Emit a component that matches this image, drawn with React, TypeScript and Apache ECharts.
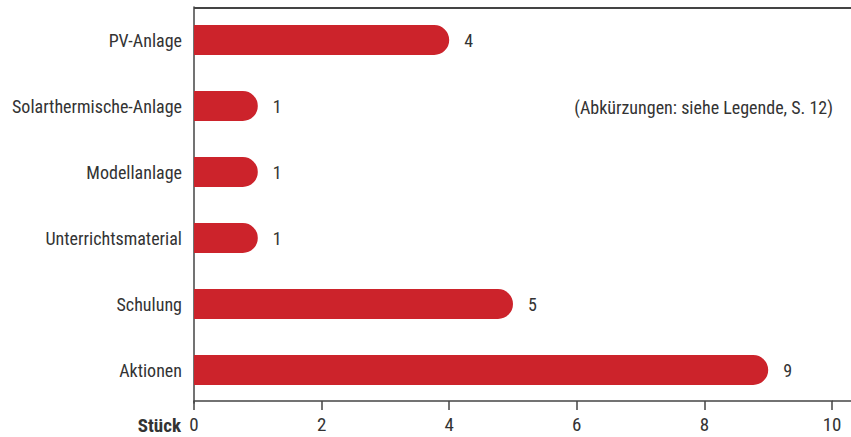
import React, { useEffect, useRef } from "react";
import * as echarts from "echarts";

const categories = ["PV-Anlage", "Solarthermische-Anlage", "Modellanlage", "Unterrichtsmaterial", "Schulung", "Aktionen"];
const values = [4, 1, 1, 1, 5, 9];
const axisUnit = "Stück";
const note = "(Abkürzungen: siehe Legende, S. 12)";

const FONT = "'Liberation Sans Narrow', 'Roboto Condensed', 'DejaVu Sans Condensed', 'Liberation Sans', sans-serif";
const TEXT = "#333333";
const LINE = "#444444";

export default function App() {
  const ref = useRef<HTMLDivElement>(null);
  useEffect(() => {
    const chart = echarts.init(ref.current!, null, { renderer: "svg" });
    chart.setOption({
      animation: false,
      textStyle: { fontFamily: FONT },
      grid: { left: 194, right: 19, top: 7, bottom: 34, containLabel: false },
      xAxis: {
        type: "value",
        min: 0,
        max: 10,
        interval: 2,
        offset: -2,
        splitLine: { show: false },
        axisLine: { show: true, lineStyle: { color: LINE, width: 1.5 } },
        axisTick: { show: true, length: 9, lineStyle: { color: LINE, width: 1.5 } },
        axisLabel: { color: TEXT, fontSize: 19, fontFamily: FONT, margin: 14 },
      },
      yAxis: {
        type: "category",
        data: categories,
        inverse: true,
        axisLine: { show: true, lineStyle: { color: LINE, width: 1.5 } },
        axisTick: { show: false },
        axisLabel: { color: TEXT, fontSize: 18, fontFamily: FONT, margin: 12 },
      },
      series: [
        {
          type: "bar",
          data: values,
          barWidth: 30,
          itemStyle: { color: "#cc232b", borderRadius: [0, 15, 15, 0] },
          label: { show: true, position: "right", distance: 15, color: TEXT, fontSize: 18, fontFamily: FONT },
        },
      ],
      graphic: [
        { type: "line", shape: { x1: 194, y1: 8, x2: 851, y2: 8 }, style: { stroke: LINE, lineWidth: 2 } },
        { type: "line", shape: { x1: 832, y1: 401, x2: 851, y2: 401 }, style: { stroke: LINE, lineWidth: 1.5 } },
        {
          type: "text",
          x: 181,
          y: 425,
          style: { text: axisUnit, fill: TEXT, font: `bold 19px ${FONT}`, textAlign: "right", textVerticalAlign: "middle" },
        },
        {
          type: "text",
          x: 833,
          y: 107,
          style: { text: note, fill: TEXT, font: `18px ${FONT}`, textAlign: "right", textVerticalAlign: "middle" },
        },
      ],
    });
    return () => chart.dispose();
  }, []);
  return <div ref={ref} style={{ width: 851, height: 437, position: "absolute", left: 0, top: 0 }} />;
}
